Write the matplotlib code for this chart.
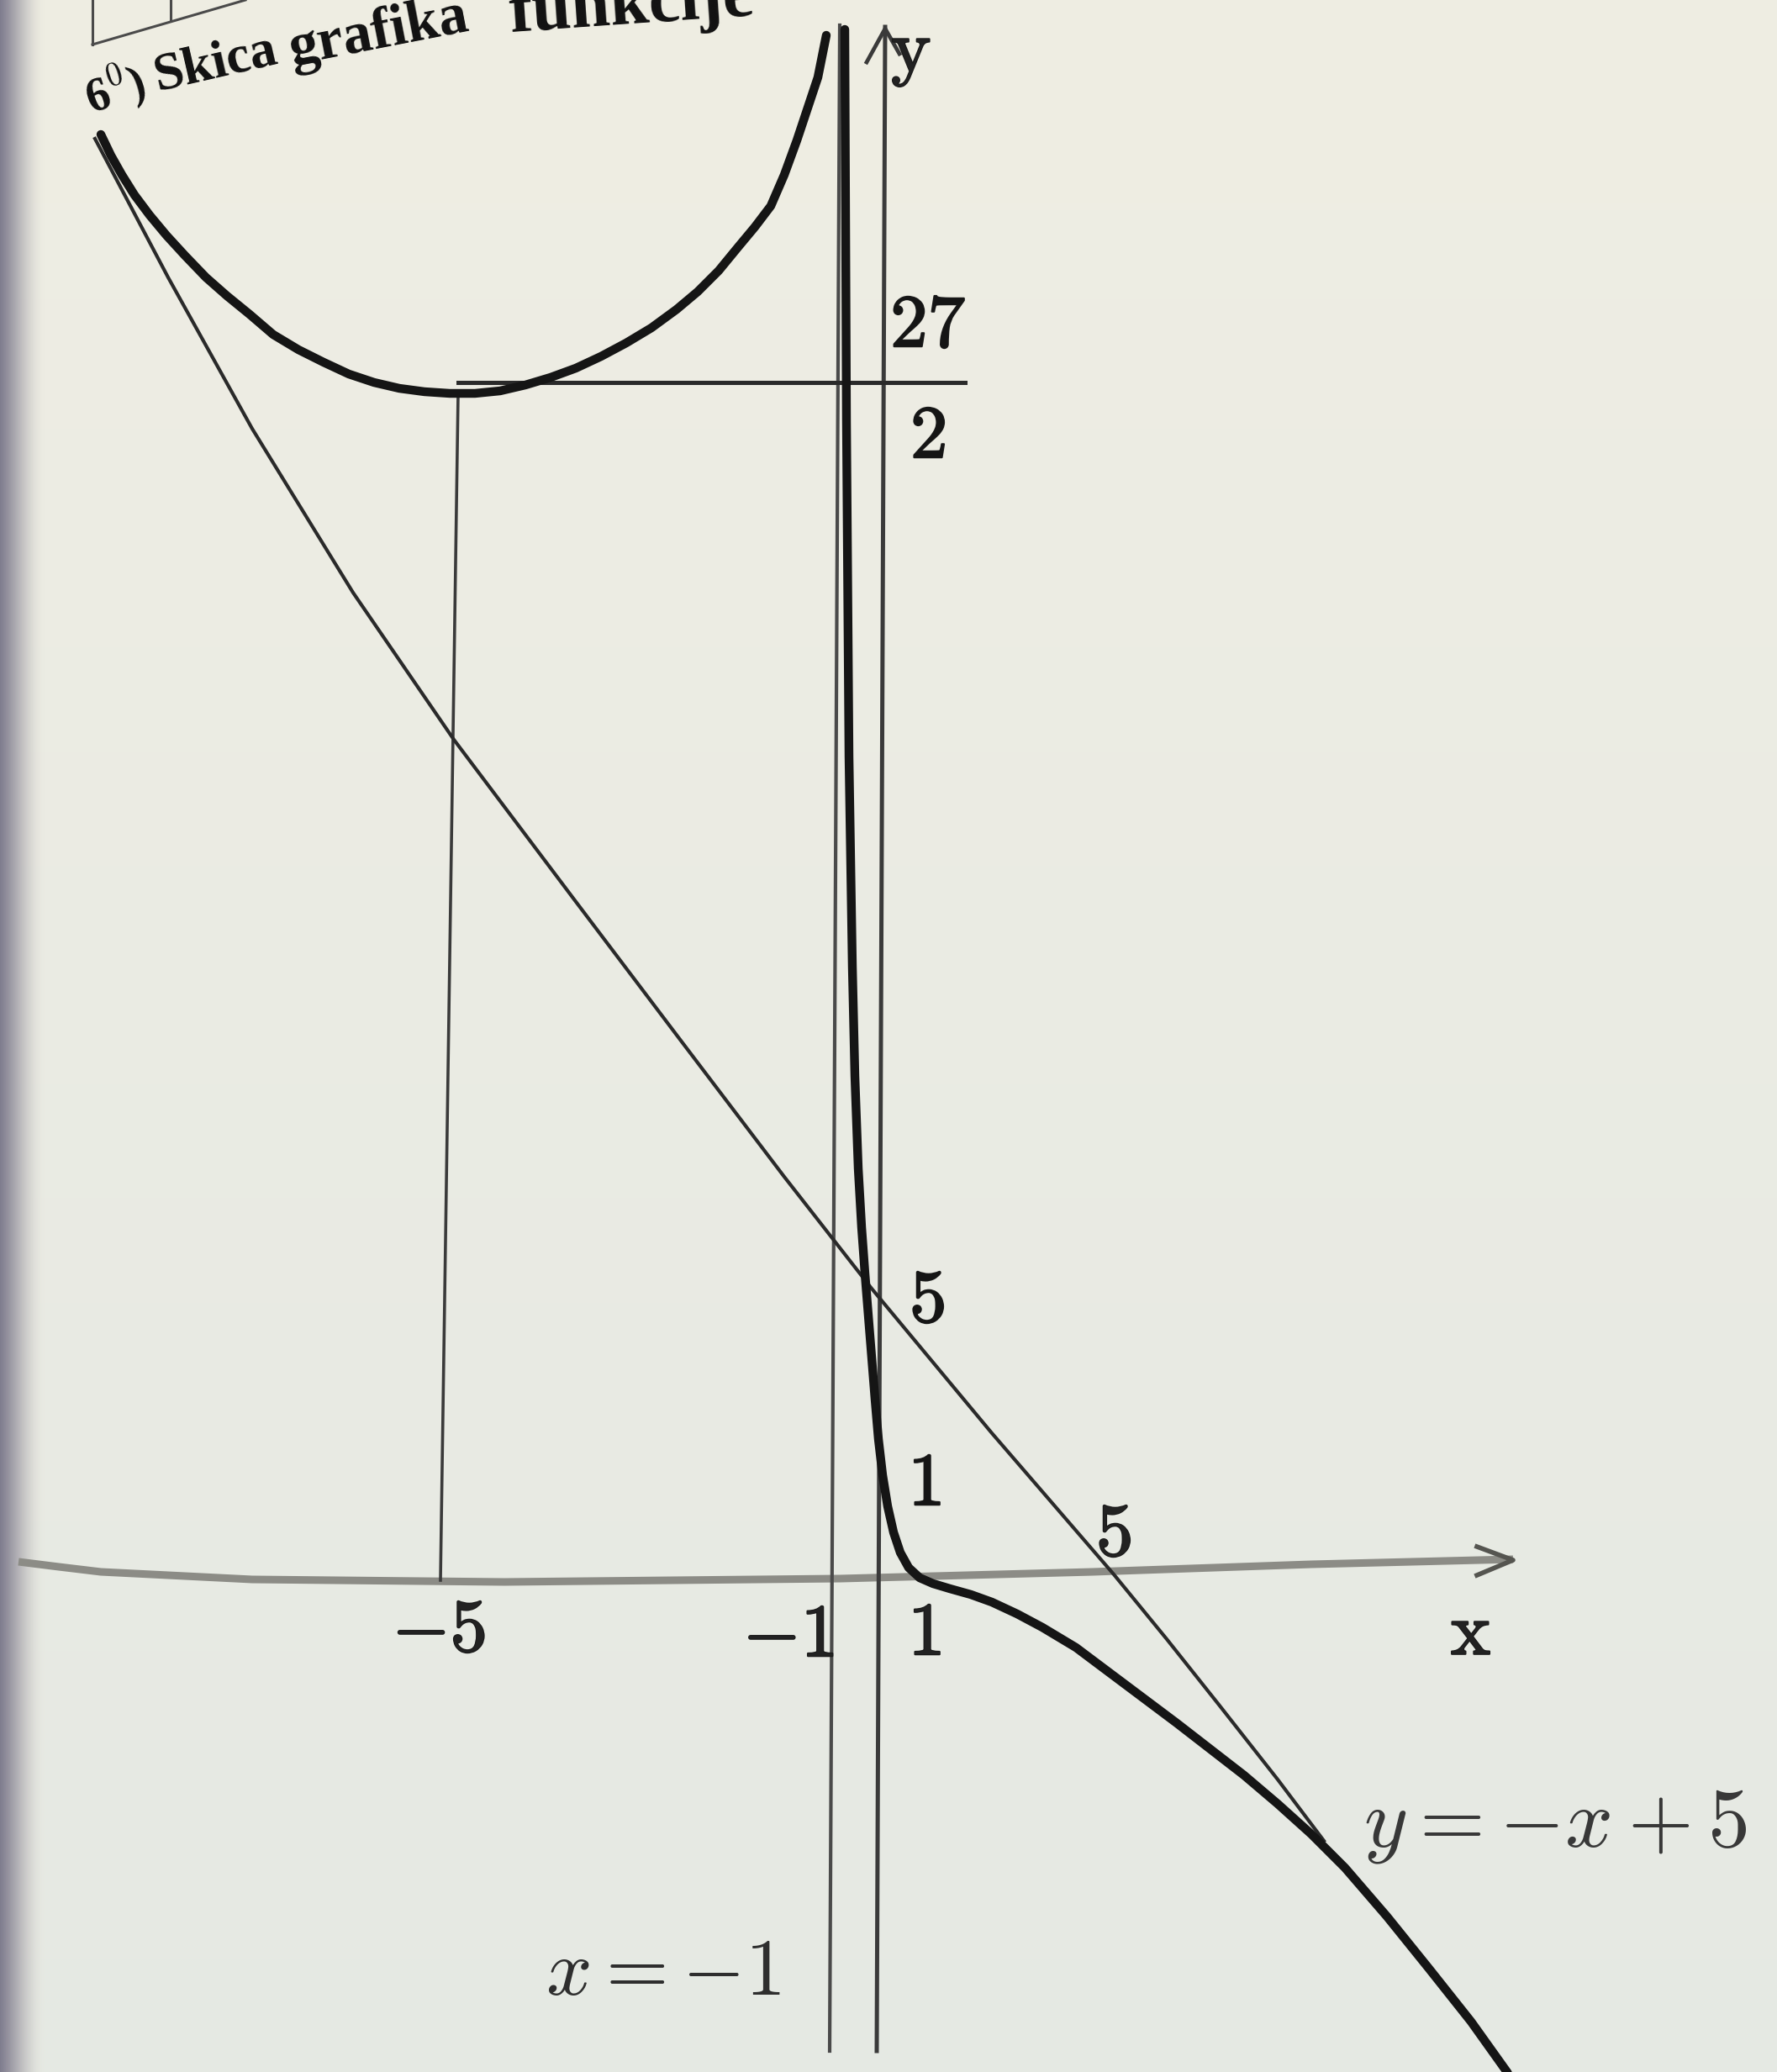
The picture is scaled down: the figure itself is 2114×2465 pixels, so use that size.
import numpy as np
import matplotlib.pyplot as plt
from matplotlib import patheffects as pe

plt.rcParams['mathtext.fontset'] = 'cm'

# sheet size in drawing units (1 unit = 1 output pixel, y grows downward)
W, H = 2114, 2465

# graph of f, branch left of the vertical asymptote
left_branch_x = [120, 132, 145, 160, 178, 198, 220, 245, 270, 297, 325, 355, 385,
                 415, 445, 475, 505, 535, 565, 595, 625, 655, 685, 715, 745, 775,
                 805, 830, 855, 878, 898, 917, 933, 948, 961, 973, 983]
left_branch_y = [160, 185, 208, 232, 256, 280, 304, 330, 352, 374, 398, 416, 431,
                 445, 455, 462, 466, 468, 468, 465, 458, 449, 438, 424, 408, 390,
                 368, 347, 322, 294, 270, 245, 208, 167, 128, 92, 42]

# graph of f, branch right of the vertical asymptote
right_branch_x = [1005, 1007, 1010, 1014, 1017, 1021, 1025, 1029, 1033, 1037, 1041,
                  1045, 1050, 1056, 1063, 1071, 1081, 1094, 1110, 1130, 1155, 1180,
                  1210, 1240, 1280, 1320, 1360, 1400, 1440, 1480, 1520, 1560, 1600,
                  1650, 1700, 1750, 1795]
right_branch_y = [35, 500, 900, 1150, 1280, 1390, 1460, 1515, 1565, 1615, 1665,
                  1712, 1755, 1792, 1823, 1847, 1865, 1877, 1884, 1890, 1897, 1906,
                  1920, 1936, 1960, 1990, 2020, 2050, 2081, 2112, 2146, 2182, 2222,
                  2280, 2342, 2405, 2468]

# oblique asymptote y = -x + 5
oblique_x = [113, 200, 300, 420, 540, 683, 810, 933, 1037, 1180, 1325, 1388, 1450, 1520, 1575]
oblique_y = [165, 330, 510, 705, 880, 1070, 1238, 1400, 1533, 1705, 1873, 1950, 2028, 2117, 2190]

# vertical asymptote x = -1
asym_x = [999, 987]
asym_y = [30, 2440]

# coordinate axes
xaxis_x = [22, 70, 120, 300, 600, 1000, 1300, 1560, 1800]
xaxis_y = [1858, 1864, 1870, 1879, 1882, 1878, 1870, 1861, 1855]
xarrow_x = [1757, 1800, 1757]
xarrow_y = [1840, 1856, 1874]
yaxis_x = [1053, 1043]
yaxis_y = [32, 2440]
yarrow_x = [1031, 1053, 1070]
yarrow_y = [74, 34, 64]

# helper lines for the minimum at x = -5, f(-5) = 27/2
min_vline_x = [545, 524]
min_vline_y = [468, 1880]
min_hline_x = [545, 1148]
min_hline_y = [455, 455]

# frame of the box above the heading
frame_x = [[110, 110], [110, 292], [203, 203]]
frame_y = [[0, 53], [53, 0], [0, 24]]

# tick labels along the axes
xtick_labels = [r'$-5$', r'$-1$', r'$1$', r'$5$']
xtick_x = [522, 938, 1100, 1325]
xtick_y = [1940, 1946, 1944, 1826]
ytick_labels = [r'$27$', r'$2$', r'$5$', r'$1$']
ytick_x = [1104, 1104, 1103, 1100]
ytick_y = [388, 520, 1548, 1766]

# heading, word by word (the page bends near its corner)
title_words = [r'6$^0$)', 'Skica', 'grafika', 'funkcije']
title_x = [108, 188, 347, 607]
title_y = [135, 108, 77, 38]
title_rot = [18, 13, 11, 4]
title_size = [40, 46, 50, 60]

fig = plt.figure(figsize=(W / 100, H / 100), dpi=100)
ax = fig.add_axes([0, 0, 1, 1])
ax.set_xlim(0, W)
ax.set_ylim(H, 0)
ax.axis('off')

# paper tone, slightly greener toward the bottom
paper_top = np.array([0.937, 0.932, 0.890])
paper_bot = np.array([0.900, 0.914, 0.892])
t = np.linspace(0, 1, 256)[:, None, None]
paper = paper_top * (1 - t) + paper_bot * t
paper = np.repeat(paper, 8, axis=1)
ax.imshow(paper, extent=(0, W, H, 0), aspect='auto', zorder=0)

# shadow of the binding along the left edge
s = np.linspace(0, 1, 64)[None, :, None]
edge = np.array([0.50, 0.49, 0.56]) * (1 - s) + paper_top * s
edge = np.concatenate([edge, np.ones((1, 64, 1))], axis=2)
edge[..., 3] = 1 - s[..., 0] ** 2
ax.imshow(np.repeat(edge, 4, axis=0), extent=(0, 55, H, 0), aspect='auto', zorder=0.5)

ink = '#151515'
thin = '#3a3a3a'

ax.plot(xaxis_x, xaxis_y, color='#8c8c86', lw=6.5, solid_capstyle='butt', zorder=1)
ax.plot(xarrow_x, xarrow_y, color='#555550', lw=4, zorder=1)
ax.plot(yaxis_x, yaxis_y, color=thin, lw=3.6, zorder=2)
ax.plot(yarrow_x, yarrow_y, color=thin, lw=3.4, zorder=2)
ax.plot(asym_x, asym_y, color='#4a4a4a', lw=3.0, zorder=2)
ax.plot(min_vline_x, min_vline_y, color=thin, lw=2.6, zorder=2)
ax.plot(min_hline_x, min_hline_y, color='#2a2a2a', lw=3.6, zorder=2)
ax.plot(oblique_x, oblique_y, color='#2a2a2a', lw=3.0, zorder=2)
for fx, fy in zip(frame_x, frame_y):
    ax.plot(fx, fy, color='#4a4a4a', lw=2.2, zorder=2)

ax.plot(left_branch_x, left_branch_y, color=ink, lw=7.5,
        solid_capstyle='round', solid_joinstyle='round', zorder=3)
ax.plot(right_branch_x, right_branch_y, color=ink, lw=7.5,
        solid_capstyle='round', solid_joinstyle='round', zorder=3)

bold = [pe.withStroke(linewidth=1.6, foreground='#1a1a1a')]
for lab, x, y in zip(xtick_labels, xtick_x, xtick_y):
    ax.text(x, y, lab, fontsize=64, ha='center', va='center', color='#222222',
            path_effects=bold, zorder=4)
for lab, x, y in zip(ytick_labels, ytick_x, ytick_y):
    ax.text(x, y, lab, fontsize=64, ha='center', va='center', color='#151515',
            path_effects=bold, zorder=4)

ax.text(1750, 1944, r'$\mathrm{x}$', fontsize=64, ha='center', va='center',
        color='#222222', path_effects=bold, zorder=4)
ax.text(1084, 62, r'$\mathrm{y}$', fontsize=64, ha='center', va='center',
        color='#222222', path_effects=bold, zorder=4)

ax.text(1622, 2172, r'$y=-x+5$', fontsize=72, ha='left', va='center',
        color='#383838', zorder=4)
ax.text(789, 2346, r'$x=-1$', fontsize=69, ha='center', va='center',
        color='#2e2e2e', zorder=4)

for word, x, y, rot, size in zip(title_words, title_x, title_y, title_rot, title_size):
    ax.text(x, y, word, family='Liberation Serif', fontweight='bold',
            fontsize=size, rotation=rot, rotation_mode='anchor',
            ha='left', va='baseline', color='#111111', zorder=4)

fig.savefig('out.png', dpi=100)
